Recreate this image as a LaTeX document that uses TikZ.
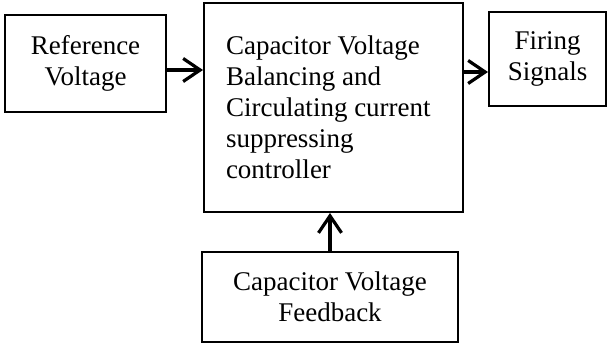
\documentclass[tikz,border=0pt]{standalone}
\usepackage{fontspec}
\setmainfont{Liberation Serif}
\usetikzlibrary{arrows.meta}

\begin{document}
\begin{tikzpicture}[x=0.5pt,y=-0.5pt,
  blk/.style={draw,line width=1pt,inner sep=0pt,align=center,
    font=\fontsize{13.5}{15.5}\selectfont},
  arr/.style={line width=1.6pt,-{Straight Barb[length=8.5pt,width=11.5pt]}}]

\useasboundingbox (0,0) rectangle (608,351);

\node[blk,minimum width=80.5pt,minimum height=48.5pt] (ref) at (85.5,63.5) {Reference\\Voltage};

\node[blk,text width=107.5pt,inner xsep=11pt,align=left,minimum height=104.5pt] (ctrl) at (333.5,107.5)
  {\spaceskip=0pt Capacitor Voltage\\Balancing and\\Circulating current\\suppressing\\controller};

\node[blk,minimum width=58.5pt,minimum height=47pt] (fire) at (547.5,59) {Firing\\Signals};

\node[blk,minimum width=128pt,minimum height=45pt] (fb) at (330,297) {Capacitor Voltage\\Feedback};

\coordinate (rout) at ([yshift=-3.25pt]ref.east);
\coordinate (fin) at ([yshift=-6.5pt]fire.west);

\draw[arr] (rout) -- (rout -| ctrl.west);
\draw[arr] (ctrl.east |- fin) -- (fin);
\draw[arr] (fb.north) -- (fb.north |- ctrl.south);

\end{tikzpicture}
\end{document}
